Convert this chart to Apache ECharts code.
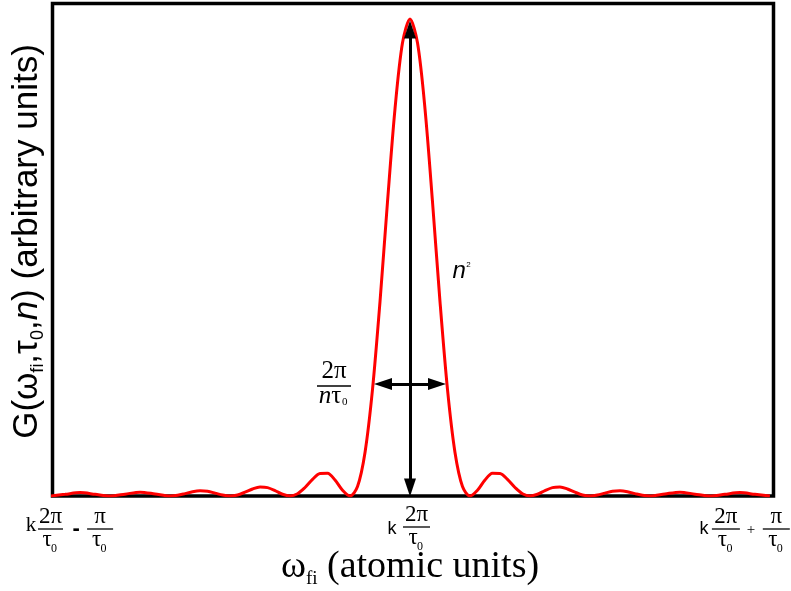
<!DOCTYPE html>
<html><head><meta charset="utf-8">
<script src="https://cdn.jsdelivr.net/npm/echarts@6/dist/echarts.min.js"></script>
<style>html,body{margin:0;padding:0;background:#fff}#c{width:791px;height:591px}</style>
</head><body><div id="c"></div>
<script>
// x in units of the zero spacing (2π/(nτ0)); axis spans k·2π/τ0 ± π/τ0
const xValues = [-6,-5.75,-5.5,-5.25,-5,-4.75,-4.5,-4.25,-4,
  -3.875,-3.75,-3.625,-3.5,-3.375,-3.25,-3.125,-3,-2.875,-2.75,-2.625,-2.5,-2.375,-2.25,-2.125,-2,
  -1.875,-1.75,-1.625,-1.5,-1.375,-1.25,-1.125,-1,-0.875,-0.75,-0.625,-0.5,-0.375,-0.25,-0.125,0,
  0.125,0.25,0.375,0.5,0.625,0.75,0.875,1,1.125,1.25,1.375,1.5,1.625,1.75,1.875,
  2,2.125,2.25,2.375,2.5,2.625,2.75,2.875,3,3.125,3.25,3.375,3.5,3.625,3.75,3.875,
  4,4.25,4.5,4.75,5,5.25,5.5,5.75,6];
const gValues = [0,0.0035,0.0071,0.0036,0,0.0039,0.0081,0.0043,0,
  0.0014,0.0050,0.0090,0.0110,0.0099,0.0061,0.0019,0,0.0022,0.0080,0.0147,0.0187,0.0175,0.0113,0.0036,0,
  0.0046,0.0178,0.0348,0.0474,0.0478,0.0336,0.0121,0,0.0197,0.0912,0.2234,0.4076,0.6169,0.8117,0.9500,1,
  0.9500,0.8117,0.6169,0.4076,0.2234,0.0912,0.0197,0,0.0121,0.0336,0.0478,0.0474,0.0348,0.0178,0.0046,
  0,0.0036,0.0113,0.0175,0.0187,0.0147,0.0080,0.0022,0,0.0019,0.0061,0.0099,0.0110,0.0090,0.0050,0.0014,
  0,0.0043,0.0081,0.0039,0,0.0036,0.0071,0.0035,0];
const tickValues = [-6, 0, 6];
const heightArrow = [[0, 0.018], [0, 0.978]];
const widthArrow = [[-0.45, 0.235], [0.45, 0.235]];
const heightLabelAt = [0.82, 0.47];
const widthLabelAt = [-1.267, 0.2306];

const SERIF = '"Liberation Serif", "Times New Roman", serif';
const SANS = '"Liberation Sans", Arial, sans-serif';

const chart = echarts.init(document.getElementById('c'), null, {renderer: 'canvas'});
chart.setOption({
  animation: false,
  grid: {left: 52.5, right: 17.5, top: 3.5, bottom: 95, show: true, borderColor: '#000', borderWidth: 3.5},
  xAxis: {type: 'value', min: -5.96, max: 6.06, axisLine: {show: false}, axisTick: {show: false}, axisLabel: {show: false}, splitLine: {show: false}},
  yAxis: {type: 'value', min: 0, max: 1.0325, axisLine: {show: false}, axisTick: {show: false}, axisLabel: {show: false}, splitLine: {show: false}},
  series: [{
    type: 'line',
    data: xValues.map((x, i) => [x, gValues[i]]),
    smooth: 0.3,
    showSymbol: false,
    lineStyle: {color: '#ff0000', width: 3},
    markLine: {
      silent: true,
      symbol: ['triangle', 'triangle'],
      symbolSize: [12, 18],
      label: {show: false},
      lineStyle: {color: '#000', width: 3, type: 'solid'},
      data: [
        [{coord: heightArrow[0]}, {coord: heightArrow[1]}],
        [{coord: widthArrow[0]}, {coord: widthArrow[1]}]
      ]
    }
  }]
});

function px(x, y) { return chart.convertToPixel({gridIndex: 0}, [x, y]); }
function T(x, y, text, size, family, extra) {
  return {type: 'text', x: x, y: y, silent: true, z: 20,
    style: Object.assign({text: text, fontSize: size, fontFamily: family, fill: '#000', align: 'center', verticalAlign: 'middle'}, extra || {})};
}
function L(x1, x2, y, w) {
  return {type: 'line', silent: true, z: 20, shape: {x1: x1, y1: y, x2: x2, y2: y}, style: {stroke: '#000', lineWidth: w || 1.3}};
}
// fraction  num / τ0
function frac(cx, barY, num, w) {
  return [
    T(cx, barY - 12.5, num, 23, SERIF),
    L(cx - w / 2, cx + w / 2, barY),
    T(cx - 3.5, barY + 11, 'τ', 23, SERIF),
    T(cx + 0.5, barY + 20, '0', 12, SERIF, {align: 'left'})
  ];
}

const g = [];
const barY = 528;
const pL = px(tickValues[0], 0)[0], pC = px(tickValues[1], 0)[0], pR = px(tickValues[2], 0)[0];
// left tick label: k 2π/τ0 - π/τ0
g.push(T(pL - 19, 525, 'k', 21, SERIF));
g.push(...frac(pL + 0.4, barY + 1, '2π', 25));
g.push(T(pL + 26, 529, '-', 22, SANS, {fontWeight: 'bold'}));
g.push(...frac(pL + 50, barY + 1, 'π', 26));
// centre tick label: k 2π/τ0
g.push(T(pC - 18, 529, 'k', 18, SANS));
g.push(...frac(pC + 6.5, barY - 1, '2π', 27));
// right tick label: k 2π/τ0 + π/τ0
g.push(T(pR - 66, 529, 'k', 18, SANS));
g.push(...frac(pR - 44, barY + 1, '2π', 28));
g.push(T(pR - 19, 530, '+', 15, SERIF));
g.push(...frac(pR + 6.4, barY + 1, 'π', 27));

// n^2 label
const hp = px(heightLabelAt[0], heightLabelAt[1]);
g.push(T(hp[0], hp[1], 'n', 24, SANS, {fontStyle: 'italic'}));
g.push(T(hp[0] + 7, hp[1] - 7, '2', 8, SANS, {align: 'left'}));

// 2π / nτ0 label
const wp = px(widthLabelAt[0], widthLabelAt[1]);
g.push(T(wp[0], wp[1] - 15, '2π', 25, SERIF));
g.push(L(wp[0] - 17, wp[0] + 17, wp[1], 1.5));
g.push(T(wp[0] - 4, wp[1] + 10, '{i|n}{r|τ}', 25, SERIF, {rich: {i: {fontSize: 25, fontFamily: SERIF, fontStyle: 'italic'}, r: {fontSize: 25, fontFamily: SERIF}}}));
g.push(T(wp[0] + 8, wp[1] + 16, '0', 11, SERIF, {align: 'left'}));

// axis titles
g.push({type: 'text', x: 27, y: 241.5, rotation: Math.PI / 2, silent: true, z: 20,
  style: {text: '{a|G(ω}{s|fi}{a|,τ}{s|0}{a|,}{i|n}{a|) (arbitrary units)}', align: 'center', verticalAlign: 'middle', fill: '#000',
    rich: {
      a: {fontSize: 35, fontFamily: SANS, lineHeight: 40, verticalAlign: 'middle'},
      i: {fontSize: 35, fontFamily: SANS, fontStyle: 'italic', lineHeight: 40, verticalAlign: 'middle'},
      s: {fontSize: 18, fontFamily: SANS, lineHeight: 18, verticalAlign: 'bottom'}
    }}});
g.push({type: 'text', x: 410, y: 567, silent: true, z: 20,
  style: {text: '{a|ω}{s|fi}{a| (atomic units)}', align: 'center', verticalAlign: 'middle', fill: '#000',
    rich: {
      a: {fontSize: 38, fontFamily: SERIF, lineHeight: 43, verticalAlign: 'middle'},
      s: {fontSize: 19, fontFamily: SERIF, lineHeight: 19, verticalAlign: 'bottom'}
    }}});

chart.setOption({graphic: g});
</script>
</body></html>
